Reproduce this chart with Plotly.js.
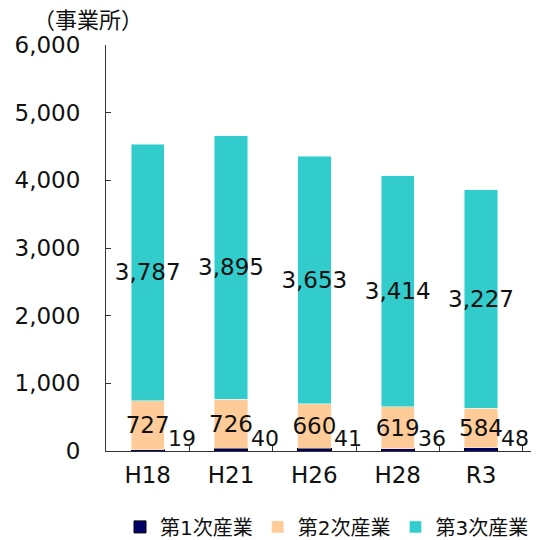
<!DOCTYPE html>
<html>
<head>
<meta charset="utf-8">
<script src="https://cdn.plot.ly/plotly-3.0.1.min.js"></script>
<style>
  html, body { margin: 0; padding: 0; background: #fff; }
  #chart { width: 544px; height: 540px; }
</style>
</head>
<body>
<div id="chart"></div>
<script>
const years = ["H18", "H21", "H26", "H28", "R3"];
const primary = [19, 40, 41, 36, 48];
const secondary = [727, 726, 660, 619, 584];
const tertiary = [3787, 3895, 3653, 3414, 3227];
const seriesNames = ["第1次産業", "第2次産業", "第3次産業"];
const yTicks = [0, 1000, 2000, 3000, 4000, 5000, 6000];

const FONT = "'DejaVu Sans', 'Noto Sans CJK JP', sans-serif";
const JP_FONT = "'Noto Sans CJK JP', 'DejaVu Sans', sans-serif";

const barBase = {
  type: "bar",
  x: years,
  width: 0.4,
  textangle: 0,
  constraintext: "none",
  insidetextanchor: "middle",
  textfont: { family: FONT, size: 23, color: "#111111" },
  hoverinfo: "skip",
};

const traces = [
  {
    ...barBase,
    name: seriesNames[0],
    y: primary,
    marker: { color: "#000066", line: { color: "#000000", width: 1 } },
    textposition: "none",
  },
  {
    ...barBase,
    name: seriesNames[1],
    y: secondary,
    marker: { color: "#ffcc99", line: { color: "#fff3e6", width: 0.5 } },
    texttemplate: "%{y:,}",
    textposition: "inside",
  },
  {
    ...barBase,
    name: seriesNames[2],
    y: tertiary,
    marker: { color: "#33cccc", line: { color: "#e6ffff", width: 0.5 } },
    texttemplate: "%{y:,}",
    textposition: "inside",
  },
];

// 第1次産業 labels sit to the right of the thin bottom segment
const primaryLabels = years.map((yr, i) => ({
  x: yr,
  y: 0,
  xref: "x",
  yref: "y",
  text: primary[i].toLocaleString("en-US"),
  showarrow: false,
  xanchor: "center",
  yanchor: "bottom",
  xshift: 34,
  yshift: -2,
  font: { family: FONT, size: 22, color: "#111111" },
}));

const layout = {
  width: 544,
  height: 540,
  margin: { l: 106, r: 13, t: 45, b: 89, autoexpand: false },
  paper_bgcolor: "#ffffff",
  plot_bgcolor: "#ffffff",
  font: { family: FONT, color: "#111111" },
  barmode: "stack",
  showlegend: true,
  legend: {
    orientation: "h",
    x: 0.52,
    xanchor: "center",
    y: -0.187,
    yanchor: "middle",
    font: { family: FONT, size: 20, color: "#111111" },
    itemwidth: 30,
    traceorder: "normal",
  },
  xaxis: {
    type: "category",
    showline: true,
    linecolor: "#333333",
    linewidth: 1,
    ticks: "inside",
    tickson: "boundaries",
    ticklen: 5,
    tickcolor: "#333333",
    tickfont: { family: FONT, size: 23, color: "#111111" },
    ticklabelstandoff: 3,
    showgrid: false,
    zeroline: false,
  },
  yaxis: {
    range: [0, 6000],
    tickvals: yTicks,
    ticktext: yTicks.map((v) => v.toLocaleString("en-US")),
    showline: true,
    linecolor: "#333333",
    linewidth: 1,
    ticks: "inside",
    ticklen: 5,
    tickcolor: "#333333",
    tickfont: { family: FONT, size: 23, color: "#111111" },
    ticklabelstandoff: 20,
    showgrid: false,
    zeroline: false,
  },
  annotations: [
    {
      text: "（事業所）",
      xref: "paper",
      yref: "paper",
      x: -0.0435,
      y: 1.066,
      xanchor: "center",
      yanchor: "middle",
      showarrow: false,
      font: { family: JP_FONT, size: 22, color: "#111111" },
    },
    ...primaryLabels,
  ],
};

Plotly.newPlot("chart", traces, layout, { displayModeBar: false, staticPlot: true });
</script>
</body>
</html>
